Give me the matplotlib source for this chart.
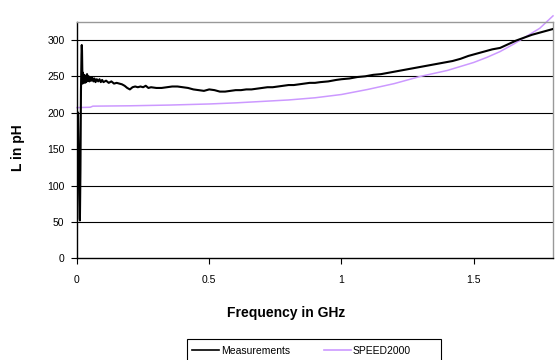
import matplotlib
matplotlib.use("Agg")
import matplotlib.pyplot as plt
from matplotlib.patches import Rectangle

plt.rcParams['font.family'] = ['Liberation Sans', 'DejaVu Sans']

meas_f = [0.004, 0.006, 0.008, 0.010, 0.011, 0.013, 0.015, 0.017, 0.018, 0.019, 0.020, 0.021,
          0.022, 0.023, 0.024, 0.026, 0.028, 0.030, 0.032, 0.035, 0.038, 0.041, 0.044, 0.047,
          0.050, 0.054, 0.058, 0.062, 0.066, 0.070, 0.075, 0.080, 0.085, 0.090, 0.095, 0.10,
          0.11, 0.12, 0.13, 0.14, 0.15, 0.16, 0.17, 0.18, 0.19, 0.20, 0.21, 0.22, 0.23, 0.24,
          0.25, 0.26, 0.27, 0.28, 0.30, 0.32, 0.34, 0.36, 0.38, 0.40, 0.42, 0.44, 0.46, 0.48,
          0.50, 0.52, 0.54, 0.56, 0.58, 0.60, 0.62, 0.64, 0.66, 0.68, 0.70, 0.72, 0.74, 0.76,
          0.78, 0.80, 0.82, 0.84, 0.86, 0.88, 0.90, 0.92, 0.95, 0.98, 1.00, 1.03, 1.06, 1.09,
          1.12, 1.15, 1.18, 1.21, 1.24, 1.27, 1.30, 1.33, 1.36, 1.39, 1.42, 1.45, 1.48, 1.51,
          1.54, 1.57, 1.60, 1.63, 1.66, 1.69, 1.72, 1.75, 1.78, 1.80]
meas_L = [200, 150, 90, 55, 52, 120, 230, 280, 293, 285, 260, 240,
          255, 243, 250, 242, 252, 241, 248, 242, 253, 244, 250, 243,
          249, 244, 248, 243, 247, 242, 246, 243, 246, 242, 245, 242,
          244, 241, 243, 240, 241, 240, 239, 237, 234, 232, 235, 236, 235, 236,
          235, 237, 234, 235, 234, 234, 235, 236, 236, 235, 234, 232, 231, 230,
          232, 231, 229, 229, 230, 231, 231, 232, 232, 233, 234, 235, 235, 236,
          237, 238, 238, 239, 240, 241, 241, 242, 243, 245, 246, 247, 249, 250,
          252, 253, 255, 257, 259, 261, 263, 265, 267, 269, 271, 274, 278, 281,
          284, 287, 289, 294, 299, 303, 307, 310, 313, 315]

sim_f = [0.0, 0.05, 0.06, 0.2, 0.35, 0.5, 0.6, 0.7, 0.8, 0.9, 1.0, 1.1, 1.2, 1.3, 1.4,
         1.5, 1.55, 1.6, 1.65, 1.7, 1.75, 1.8]
sim_L = [207, 207.5, 209, 209.5, 210.5, 212, 213.5, 215.5, 217.5, 220.5, 225, 232, 240, 250, 258,
         269, 276, 284, 294, 305, 316, 333]

yticks = [0, 50, 100, 150, 200, 250, 300]
xticks = [0, 0.5, 1, 1.5]
xtick_labels = ['0', '0.5', '1', '1.5']

W, H = 559, 360
fig = plt.figure(figsize=(W/100, H/100), dpi=100)
ax = fig.add_axes([77/W, 1 - 258.3/H, (553 - 77)/W, (258.3 - 22)/H])

for y in yticks[1:]:
    ax.axhline(y, color='black', lw=0.8, zorder=1)

l1, = ax.plot(meas_f, meas_L, color='black', lw=1.5, label='Measurements', zorder=3)
l2, = ax.plot(sim_f, sim_L, color='#CC99FF', lw=1.1, label='SPEED2000', zorder=2, clip_on=False)

ax.set_xlim(0, 1.8)
ax.set_ylim(0, 324.6)
ax.set_yticks(yticks)
ax.set_xticks(xticks)
ax.set_xticklabels(xtick_labels)
ax.tick_params(axis='both', labelsize=7.5, length=4, width=0.8, color='black', direction='out')
ax.tick_params(axis='y', pad=5)
ax.tick_params(axis='x', pad=8)

for s in ['top', 'right']:
    ax.spines[s].set_color('#999999')
    ax.spines[s].set_linewidth(1.0)
for s in ['left', 'bottom']:
    ax.spines[s].set_color('black')
    ax.spines[s].set_linewidth(1.0)

fig.text(18/W, 1 - 148/H, 'L in pH', rotation=90, ha='center', va='center',
         fontsize=10, fontweight='bold')
fig.text(286/W, 1 - 313/H, 'Frequency in GHz', ha='center', va='center',
         fontsize=10, fontweight='bold')

# legend frame (extends past bottom edge as in the reference)
fig.patches.append(Rectangle((187/W, 1 - 368/H), (441 - 187)/W, (368 - 339)/H,
                             transform=fig.transFigure, facecolor='white',
                             edgecolor='black', lw=0.8, zorder=5))
leg = fig.legend(handles=[l1, l2], labels=['Measurements', 'SPEED2000'],
                 loc='center left', ncol=2,
                 bbox_to_anchor=(192/W, 1 - 351/H), bbox_transform=fig.transFigure,
                 fontsize=7.5, frameon=False, handlelength=2.6, handletextpad=0.15,
                 columnspacing=3.3, borderaxespad=0, borderpad=0)
leg.set_zorder(6)
for line in leg.get_lines():
    line.set_linewidth(1.2)

fig.savefig('out.png', dpi=100)
